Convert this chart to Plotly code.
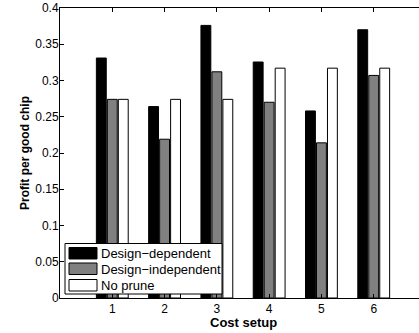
import plotly.graph_objects as go

categories = [1, 2, 3, 4, 5, 6]
design_dependent = [0.331, 0.264, 0.376, 0.3255, 0.258, 0.370]
design_independent = [0.274, 0.219, 0.312, 0.270, 0.214, 0.307]
no_prune = [0.274, 0.274, 0.274, 0.317, 0.317, 0.317]
series_names = ["Design\u2212dependent", "Design\u2212independent", "No prune"]
series_colors = ["#000000", "#808080", "#ffffff"]
y_ticks = [0, 0.05, 0.1, 0.15, 0.2, 0.25, 0.3, 0.35, 0.4]
y_tick_labels = ["0", "0.05", "0.1", "0.15", "0.2", "0.25", "0.3", "0.35", "0.4"]
x_tick_labels = ["1", "2", "3", "4", "5", "6"]

font_family = "Liberation Sans, Arial, Helvetica, sans-serif"

# plot area in page pixels (for placing the hand-made legend)
PL, PR, PT, PB = 60, 419, 8, 298


def px(x):
    return (x - PL) / (PR - PL)


def py(y):
    return (PB - y) / (PB - PT)


fig = go.Figure()
for vals, name, col in zip([design_dependent, design_independent, no_prune], series_names, series_colors):
    fig.add_trace(go.Bar(x=categories, y=vals, name=name,
                         marker=dict(color=col, line=dict(color="#000000", width=1))))

shapes = []
annotations = []
# legend box
shapes.append(dict(type="rect", xref="paper", yref="paper",
                   x0=px(65), x1=px(222), y0=py(294), y1=py(243.5),
                   fillcolor="white", line=dict(color="black", width=1), layer="above"))
row_tops = [247.5, 263, 279.5]
for top, name, col in zip(row_tops, series_names, series_colors):
    shapes.append(dict(type="rect", xref="paper", yref="paper",
                       x0=px(69), x1=px(97), y0=py(top + 11.5), y1=py(top),
                       fillcolor=col, line=dict(color="black", width=1), layer="above"))
    annotations.append(dict(text=name, xref="paper", yref="paper",
                            x=px(99), y=py(top + 6), xanchor="left", yanchor="middle",
                            showarrow=False, font=dict(size=13)))

annotations.append(dict(text="<b>Cost setup</b>", x=(243 - PL) / (PR - PL), xref="paper",
                        y=0, yref="paper", showarrow=False,
                        font=dict(size=13), yanchor="top", yshift=-15))

fig.update_layout(
    width=419, height=333,
    margin=dict(l=60, r=0, t=8, b=35),
    paper_bgcolor="white", plot_bgcolor="white",
    barmode="group", bargap=0.37, bargroupgap=0.1,
    font=dict(family=font_family, size=12, color="black"),
    showlegend=False,
    xaxis=dict(range=[0, 6.866], tickvals=categories, ticktext=x_tick_labels,
               ticks="inside", ticklen=4, tickcolor="black", ticklabelstandoff=0,
               showline=True, linecolor="black", linewidth=1, mirror="ticks",
               showgrid=False, zeroline=False, fixedrange=True),
    yaxis=dict(range=[0, 0.4], tickvals=y_ticks, ticktext=y_tick_labels,
               ticks="inside", ticklen=4, tickcolor="black", ticklabelstandoff=-2,
               showline=True, linecolor="black", linewidth=1, mirror=False,
               showgrid=False, zeroline=False, fixedrange=True,
               title=dict(text="<b>Profit per good chip</b>", font=dict(size=12), standoff=3)),
    shapes=shapes,
    annotations=annotations,
)

fig.write_html("out.html", config={"displayModeBar": False},
               post_script="document.body.style.margin='0';")
